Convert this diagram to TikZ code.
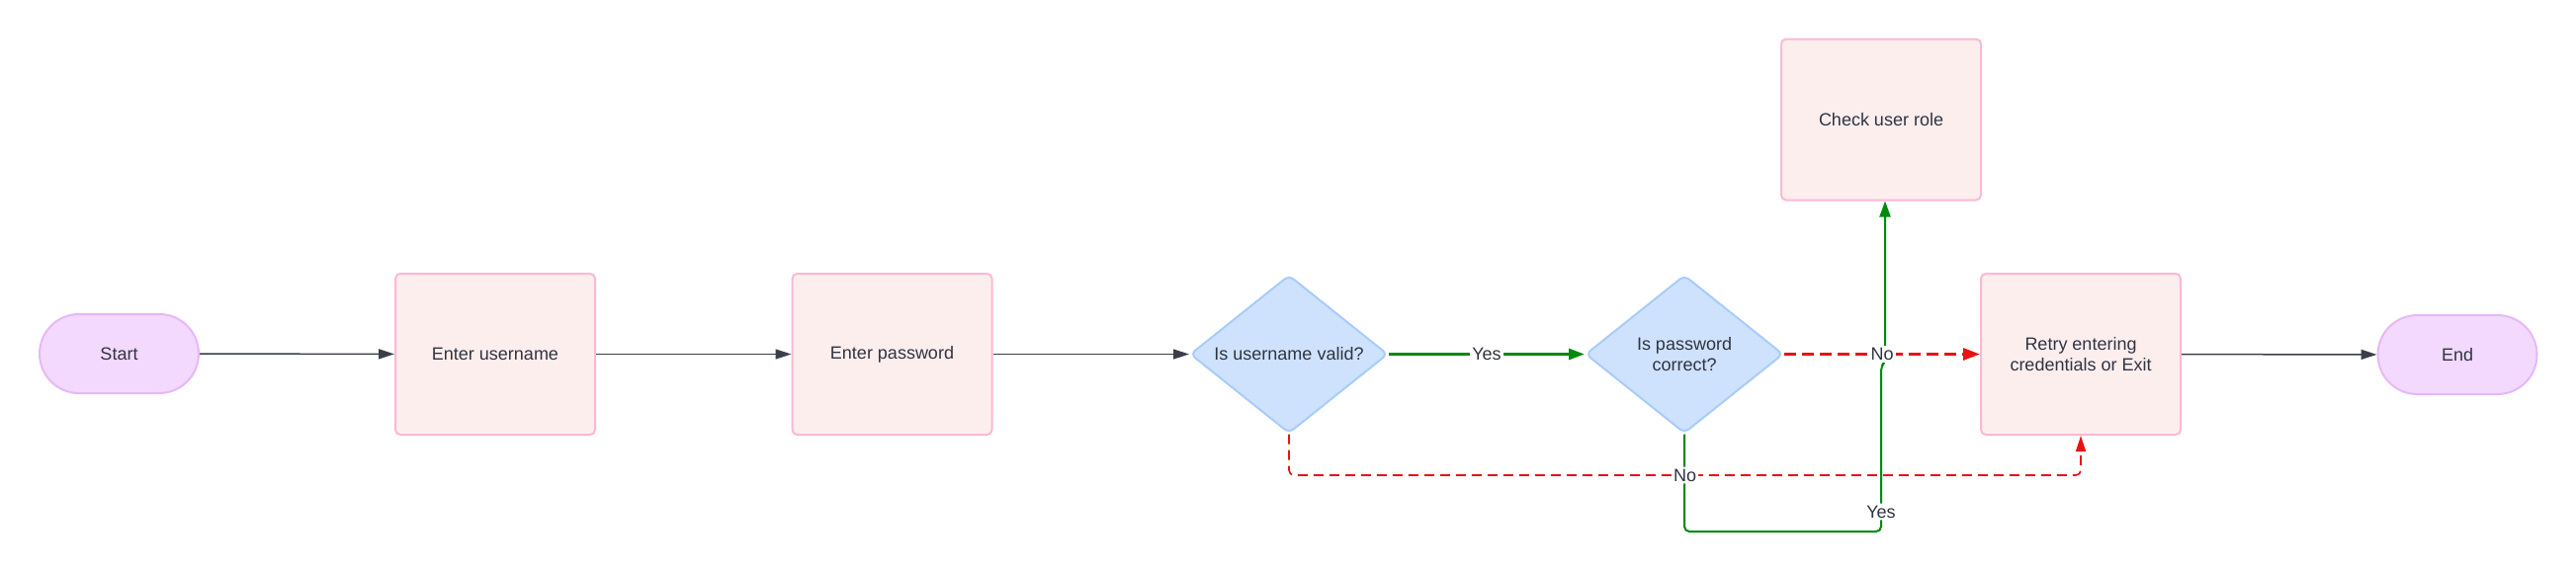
\documentclass[tikz,border=0pt]{standalone}
\usepackage{fontspec}
\setmainfont{Liberation Sans}
\usetikzlibrary{arrows.meta,shapes.geometric}
\definecolor{termfill}{HTML}{F2D9FD}
\definecolor{termdraw}{HTML}{E6B8F7}
\definecolor{procfill}{HTML}{FDEEEE}
\definecolor{procdraw}{HTML}{FAB9D4}
\definecolor{decfill}{HTML}{CFE2FD}
\definecolor{decdraw}{HTML}{A8CCFA}
\definecolor{txt}{HTML}{2F3441}
\definecolor{darkline}{HTML}{3A3F4B}
\definecolor{gline}{HTML}{008A0E}
\definecolor{rline}{HTML}{E81313}
\tikzset{
  base/.style={text=txt, font=\fontsize{9pt}{10.4pt}\selectfont, align=center, line width=1pt},
  term/.style={base, rectangle, rounded corners=20pt, minimum width=80.5pt, minimum height=40pt, fill=termfill, draw=termdraw},
  proc/.style={base, rectangle, rounded corners=2.5pt, minimum width=101pt, minimum height=81.5pt, fill=procfill, draw=procdraw},
  dec/.style={base, diamond, shape aspect=1.25, inner sep=0pt, rounded corners=3pt, minimum width=100pt, minimum height=80pt, fill=decfill, draw=decdraw},
  lbl/.style={text=txt, font=\fontsize{9pt}{10.4pt}\selectfont, fill=white, inner sep=1pt},
  darrow/.style={draw=darkline, line width=0.75pt, -{Triangle[length=8pt,width=5pt]}},
  garrowthick/.style={draw=gline, line width=1.5pt, -{Triangle[length=8pt,width=5.5pt]}},
  garrowthin/.style={draw=gline, line width=1pt, rounded corners=2.5pt, -{Triangle[length=8pt,width=5.5pt]}},
  rarrowthick/.style={draw=rline, line width=1.5pt, dash pattern=on 6pt off 3pt, -{Triangle[length=8.5pt,width=6pt]}},
  rarrowthin/.style={draw=rline, line width=0.8pt, dash pattern=on 5pt off 3pt, rounded corners=2.5pt, -{Triangle[length=8pt,width=5pt]}},
}
\begin{document}
\begin{tikzpicture}[x=0.5pt,y=-0.5pt]
\useasboundingbox (0,0) rectangle (2606,579);
\node[term] (start) at (120.5,358) {Start};
\node[proc] (user) at (501,358.5) {Enter username};
\node[proc] (pass) at (902.5,358.5) {Enter password};
\node[dec] (uval) at (1304,358.5) {Is username valid?};
\node[dec] (pval) at (1704,358.5) {Is password\\correct?};
\node[proc] (role) at (1903,121) {Check user role};
\node[proc] (retry) at (2105,358.5) {Retry entering\\credentials or Exit};
\node[term] (end) at (2486,359) {End};

\coordinate (gb) at (1903,538);
\coordinate (gj) at (1903,371);
\coordinate (gj2) at (1907,366);
\coordinate (rb) at (1304,481);

\draw[darrow] (start) -- (user);
\draw[darrow] (user) -- (pass);
\draw[darrow] (pass) -- (uval);
\draw[darrow] (retry) -- (end);

\draw[garrowthick] (uval.east) -- node[lbl, pos=0.5]{Yes} (pval.west);

\draw[garrowthin] (pval.south) |- (gb) -- node[lbl, pos=0.12]{Yes} (gj) -- (gj2) -- (role.south -| gj2);

\draw[rarrowthin] (uval.south) -- (rb) -- node[lbl, pos=0.5]{No} (rb -| retry.south) -- (retry.south);

\draw[rarrowthick] (pval.east) -- node[lbl, pos=0.5]{No} (retry.west);
\end{tikzpicture}
\end{document}
